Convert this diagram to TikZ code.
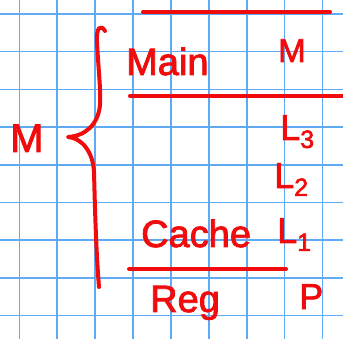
\documentclass[tikz,border=0pt]{standalone}
\usepackage{fontspec}
\newfontfamily\hand[FakeBold=2.2]{Liberation Sans}
\definecolor{gridblue}{RGB}{95,170,245}
\definecolor{ink}{RGB}{240,12,12}
\tikzset{
  gridline/.style={draw=gridblue, line width=1.6pt},
  pen/.style={draw=ink, line width=4pt, line cap=round, line join=round},
  word/.style={text=ink, inner sep=0pt, anchor=base west},
}
\newcommand{\handsz}[1]{\hand\fontsize{#1}{#1}\selectfont}
\newcommand{\low}[1]{\raisebox{-0.22em}{\fontsize{25}{25}\selectfont #1}}
\begin{document}
\begin{tikzpicture}[x=1pt, y=-1pt]
  \useasboundingbox (0,0) rectangle (343,339);
  \fill[white] (0,0) rectangle (343,339);
  % squared paper
  \foreach \i in {0,...,8} {
    \draw[gridline] (19.3+37.9*\i,0) -- ++(0,339);
    \draw[gridline] (0,14+37.7*\i) -- ++(343,0);
  }
  % level separators
  \draw[pen] (143,12) -- (330,12);
  \draw[pen] (130,96) -- (343,96);
  \draw[pen] (129,269) -- (286,269);
  % curly brace
  \draw[pen] (105,31) .. controls (101,24) and (96,27) .. (97,42)
    .. controls (98,65) and (101,90) .. (100,105)
    .. controls (98,125) and (85,136) .. (68,137)
    .. controls (82,138) and (93,152) .. (94,172)
    .. controls (95,210) and (96,250) .. (99,287);
  % labels
  \node[word, font=\handsz{40}] (mleft) at (10,152) {M};
  \node[word, font=\handsz{38}] (main) at (126,75) {Main};
  \node[word, font=\handsz{33}] (mright) at (278,62) {M};
  \node[word, font=\handsz{36}] (l3) at (280,140) {L\low{3}};
  \node[word, font=\handsz{36}] (l2) at (274,188) {L\low{2}};
  \node[word, font=\handsz{36}] (l1) at (277,243) {L\low{1}};
  \node[word, font=\handsz{38}] (cache) at (141,247) {Cache};
  \node[word, font=\handsz{38}] (reg) at (150,312) {Reg};
  \node[word, font=\handsz{36}] (p) at (299,309) {P};
\end{tikzpicture}
\end{document}
